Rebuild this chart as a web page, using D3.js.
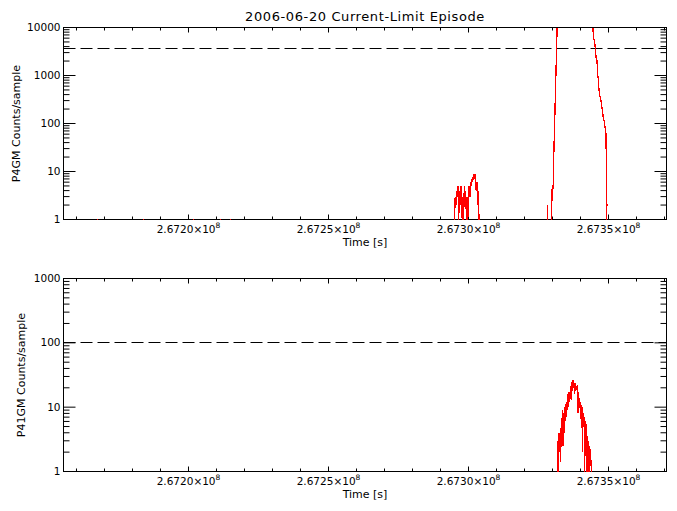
<!DOCTYPE html>
<html><head><meta charset="utf-8">
<script src="https://cdn.jsdelivr.net/npm/d3@7"></script>
<style>
body{margin:0;background:#fff}
svg{display:block}
text{font-family:"DejaVu Sans",sans-serif;fill:#000}
</style>
</head><body>
<svg id="chart" width="677" height="511"></svg>
<script>
// ---------------- data ----------------
const chartTitle = "2006-06-20 Current-Limit Episode";
const xTitle = "Time [s]";
const timeBase = 267200000;                 // seconds; sample times below are offsets from this
const xDomain = [267155360, 267370710];
const xMajorTicks = [267200000, 267250000, 267300000, 267350000];
const xTickMantissa = ["2.6720", "2.6725", "2.6730", "2.6735"];
const xTickExponent = "8";
const xMinorStep = 10000;

// P4GM counts/sample
const p4gmTitle = "P4GM Counts/sample";
const p4gmYDomain = [1, 10000];
const p4gmYTicks = [1, 10, 100, 1000, 10000];
const p4gmThreshold = 3650;
const p4gmTime = [
  -44000, -32800, -32500, -32200,
  -16400, -16100, -15800,
  1500, 1800, 2100,
  11100, 11400, 11700,
  14700, 15000, 15300,
  94750, 95000, 95250, 95500, 95750, 96000, 96250, 96500, 96750, 97000,
  97250, 97500, 97750, 98000, 98250, 98500, 98750, 99000, 99250, 99500,
  99750, 100000, 100250, 100500, 100750, 101000, 101250, 101500, 101750, 102000,
  102250, 102500, 102750, 103000, 103250, 103500, 103750, 104000,
  128000, 128300, 128600,
  129300, 129600, 129900, 130100, 130300, 130500, 130800, 131100, 131400, 131700,
  133000, 135000, 137000, 139000, 141000, 143000, 144000, 144300, 144700, 145000,
  145300, 145600, 145900, 146100, 146400, 146600, 146900, 147300, 147600, 147900,
  148200, 148500, 148800, 149100, 149250, 149400,
  149500, 149550, 149650, 149700,
  170000
];
const p4gmCounts = [
  0, 0, 1, 0,
  0, 1, 0,
  0, 1, 0,
  0, 1, 0,
  0, 1, 0,
  0, 1, 3, 2, 4, 3, 5, 1, 4, 2,
  5, 4, 1, 3, 1, 5, 2, 4, 1, 3,
  1, 4, 5, 3, 6, 5, 7, 6, 9, 7,
  9, 8, 4, 6, 2, 4, 1, 0,
  0, 2, 0,
  0, 1, 5, 4, 6, 28, 120, 580, 2700, 14000,
  30000, 45000, 60000, 50000, 35000, 20000, 14000, 12000, 6000, 5200,
  3600, 2300, 2000, 1000, 870, 500, 380, 300, 220, 180,
  120, 110, 80, 62, 10, 0,
  null, 2, 2, null,
  0
];

// P41GM counts/sample
const p41gmTitle = "P41GM Counts/sample";
const p41gmYDomain = [1, 1000];
const p41gmYTicks = [1, 10, 100, 1000];
const p41gmThreshold = 100;
const p41gmTime = [
  -44000, 131400, 131700, 131900, 132100, 132300, 132500, 132700, 132900, 133100,
  133300, 133500, 133700, 133900, 134100, 134300, 134500, 134700, 134900, 135100,
  135300, 135500, 135700, 135900, 136100, 136300, 136500, 136700, 136900, 137100,
  137300, 137500, 137700, 137900, 138100, 138300, 138500, 138700, 138900, 139100,
  139300, 139500, 139700, 139900, 140100, 140300, 140500, 140700, 140900, 141100,
  141300, 141500, 141700, 141900, 142100, 142300, 142500, 142700, 142900, 143100,
  143300, 143500, 143700, 143900, 144100, 170000
];
const p41gmCounts = [
  0, 0, 1, 3, 1, 4, 2, 4, 1.4, 5,
  3, 9, 2.5, 8, 4, 10, 6, 11, 7, 12,
  9, 16, 10, 17, 12, 15, 21, 13, 25, 18,
  26, 20, 23, 16, 24, 18, 21, 19, 22, 8,
  17, 12, 14, 9, 12, 5, 10, 2, 8, 5,
  7, 1, 6, 4, 5.5, 0, 3.5, 1, 3, 0,
  2.5, 1.5, 1.5, 1, 0, 0
];

// ---------------- drawing ----------------
const svg = d3.select("#chart");
const frameLeft = 63.5, frameRight = 666.5;
const panels = [
  {title: p4gmTitle, time: p4gmTime, counts: p4gmCounts, yDomain: p4gmYDomain, yTicks: p4gmYTicks,
   threshold: p4gmThreshold, top: 27.5, bottom: 219.5, titleX: 20, xLabelY: 233, xTitleY: 246},
  {title: p41gmTitle, time: p41gmTime, counts: p41gmCounts, yDomain: p41gmYDomain, yTicks: p41gmYTicks,
   threshold: p41gmThreshold, top: 278.5, bottom: 471.5, titleX: 24.5, xLabelY: 485, xTitleY: 498}
];

const x = d3.scaleLinear().domain(xDomain).range([frameLeft, frameRight]);
const xMinor = d3.range(Math.ceil(xDomain[0] / xMinorStep) * xMinorStep, xDomain[1], xMinorStep)
  .filter(v => !xMajorTicks.includes(v));

svg.append("text").attr("x", (frameLeft + frameRight) / 2).attr("y", 21)
  .attr("text-anchor", "middle").attr("font-size", 13).attr("letter-spacing", 0.6).text(chartTitle);

function cleanAxis(g) {
  g.select(".domain").remove();
  g.attr("font-family", null).attr("font-size", null);
  g.selectAll("line").attr("stroke", "#000").attr("stroke-width", 1);
}

panels.forEach((p, pi) => {
  const y = d3.scaleLog().domain(p.yDomain).range([p.bottom, p.top]);
  const yMinor = [];
  for (let d = p.yDomain[0]; d < p.yDomain[1]; d *= 10) {
    for (let k = 2; k <= 9; k++) yMinor.push(k * d);
  }
  const g = svg.append("g");

  const clipId = "clip" + pi;
  svg.append("clipPath").attr("id", clipId).append("rect")
    .attr("x", frameLeft).attr("y", p.top + 0.5)
    .attr("width", frameRight - frameLeft).attr("height", p.bottom - p.top);
  const pts = p.time.map((t, i) => ({t: timeBase + t, v: p.counts[i]}));
  const floor = 1e-3;
  const line = d3.line().defined(d => d.v !== null && d.v !== undefined)
    .x(d => x(d.t)).y(d => y(Math.max(d.v, floor)));

  // threshold dashed line
  const ty = Math.round(y(p.threshold) - 0.5) + 0.5;
  g.append("line").attr("x1", frameLeft).attr("x2", frameRight)
    .attr("y1", ty).attr("y2", ty)
    .attr("stroke", "#000").attr("stroke-width", 1).attr("stroke-dasharray", "12,5");

  // frame
  g.append("rect").attr("x", frameLeft).attr("y", p.top)
    .attr("width", frameRight - frameLeft).attr("height", p.bottom - p.top)
    .attr("fill", "none").attr("stroke", "#000").attr("stroke-width", 1);

  // x axes (bottom with labels, top without)
  const xb = g.append("g").attr("transform", `translate(0,${p.bottom})`)
    .call(d3.axisBottom(x).tickValues(xMajorTicks).tickSize(-5).tickSizeOuter(0).offset(0)
      .tickFormat((d, i) => xTickMantissa[i]));
  cleanAxis(xb);
  xb.selectAll("text").each(function(d, i) {
    const t = d3.select(this);
    t.text(null).attr("y", p.xLabelY - p.bottom).attr("dy", null).attr("font-size", 10.5);
    t.append("tspan").text(xTickMantissa[i] + "\u00d710");
    t.append("tspan").attr("dy", -5).attr("font-size", 7.5).text(xTickExponent);
  });
  cleanAxis(g.append("g").attr("transform", `translate(0,${p.bottom})`)
    .call(d3.axisBottom(x).tickValues(xMinor).tickSize(-3).tickSizeOuter(0).offset(0).tickFormat("")));
  cleanAxis(g.append("g").attr("transform", `translate(0,${p.top})`)
    .call(d3.axisTop(x).tickValues(xMajorTicks).tickSize(-5).tickSizeOuter(0).offset(0).tickFormat("")));
  cleanAxis(g.append("g").attr("transform", `translate(0,${p.top})`)
    .call(d3.axisTop(x).tickValues(xMinor).tickSize(-3).tickSizeOuter(0).offset(0).tickFormat("")));

  // y axes
  const yl = g.append("g").attr("transform", `translate(${frameLeft},0)`)
    .call(d3.axisLeft(y).tickValues(p.yTicks).tickSize(-12).tickSizeOuter(0).tickPadding(3).offset(0)
      .tickFormat(d3.format("d")));
  cleanAxis(yl);
  yl.selectAll("text").attr("font-size", 10.5);
  cleanAxis(g.append("g").attr("transform", `translate(${frameLeft},0)`)
    .call(d3.axisLeft(y).tickValues(yMinor).tickSize(-6).tickSizeOuter(0).offset(0).tickFormat("")));
  cleanAxis(g.append("g").attr("transform", `translate(${frameRight},0)`)
    .call(d3.axisRight(y).tickValues(p.yTicks).tickSize(-12).tickSizeOuter(0).offset(0).tickFormat("")));
  cleanAxis(g.append("g").attr("transform", `translate(${frameRight},0)`)
    .call(d3.axisRight(y).tickValues(yMinor).tickSize(-6).tickSizeOuter(0).offset(0).tickFormat("")));

  // titles
  g.append("text").attr("transform", `translate(${p.titleX},${(p.top + p.bottom) / 2}) rotate(-90)`)
    .attr("text-anchor", "middle").attr("font-size", 11).text(p.title);
  g.append("text").attr("x", (frameLeft + frameRight) / 2).attr("y", p.xTitleY)
    .attr("text-anchor", "middle").attr("font-size", 11).text(xTitle);

  // data on top
  svg.append("path").datum(pts).attr("clip-path", `url(#${clipId})`)
    .attr("d", line).attr("fill", "none").attr("stroke", "#ff0000").attr("stroke-width", 1.3)
    .attr("shape-rendering", "crispEdges");
});
</script>
</body></html>
